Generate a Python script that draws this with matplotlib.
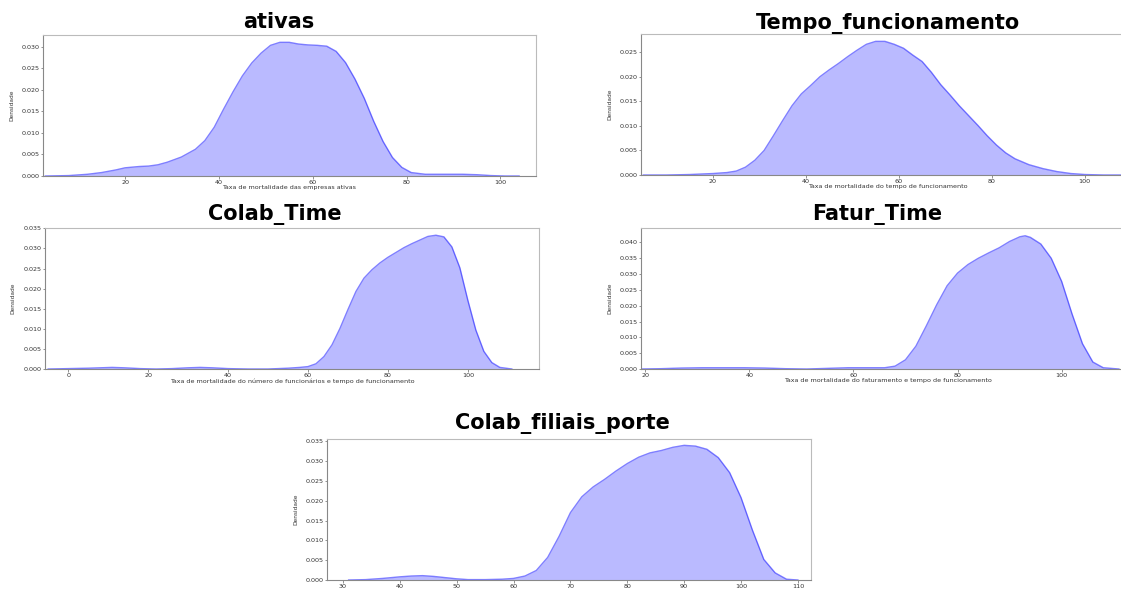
# KDE panels of mortality rates, redrawn from the density curves
import matplotlib.pyplot as plt

# ---- data (density curves) ----
titles = ["ativas", "Tempo_funcionamento", "Colab_Time", "Fatur_Time", "Colab_filiais_porte"]
xlabels = [
    "Taxa de mortalidade das empresas ativas",
    "Taxa de mortalidade do tempo de funcionamento",
    "Taxa de mortalidade do número de funcionários e tempo de funcionamento",
    "Taxa de mortalidade do faturamento e tempo de funcionamento",
    "Taxa de mortalidade do número de funcionários e filiais com porte da empresa",
]

ativas_x = [3, 8, 12, 15, 18, 20, 23, 25, 27, 29, 32, 35, 37, 39, 41, 43, 45, 47, 49, 51, 53,
            55, 57, 59, 61, 63, 65, 67, 69, 71, 73, 75, 77, 79, 81, 84, 88, 92, 95, 98, 101, 104]
ativas_d = [0.0000, 0.0001, 0.0004, 0.0008, 0.0014, 0.0019, 0.0022, 0.0023, 0.0026, 0.0032,
            0.0044, 0.0062, 0.0082, 0.0113, 0.0155, 0.0195, 0.0232, 0.0262, 0.0285, 0.0303,
            0.0310, 0.0310, 0.0306, 0.0304, 0.0303, 0.0301, 0.0289, 0.0263, 0.0225, 0.0180,
            0.0127, 0.0080, 0.0043, 0.0020, 0.0008, 0.0004, 0.0004, 0.0004, 0.0003, 0.0001,
            0.0000, 0.0000]

tempo_x = [5, 10, 15, 20, 23, 25, 27, 29, 31, 33, 35, 37, 39, 41, 43, 45, 47, 49, 51, 53, 55,
           57, 59, 61, 63, 65, 67, 69, 71, 73, 75, 77, 79, 81, 83, 85, 88, 91, 94, 97, 100, 104, 110]
tempo_d = [0.0000, 0.0000, 0.0001, 0.0003, 0.0005, 0.0008, 0.0016, 0.0030, 0.0050, 0.0080,
           0.0111, 0.0141, 0.0165, 0.0182, 0.0200, 0.0214, 0.0227, 0.0241, 0.0254, 0.0266,
           0.0272, 0.0272, 0.0266, 0.0258, 0.0244, 0.0231, 0.0209, 0.0184, 0.0163, 0.0141,
           0.0121, 0.0101, 0.0080, 0.0061, 0.0045, 0.0033, 0.0021, 0.0013, 0.0007, 0.0003,
           0.0001, 0.0000, 0.0000]

colab_x = [-5, 0, 5, 8, 11, 14, 18, 22, 26, 30, 33, 36, 40, 45, 50, 55, 58, 60, 62, 64, 66,
           68, 70, 72, 74, 76, 78, 80, 82, 84, 86, 88, 90, 92, 94, 96, 98, 100, 102, 104, 106, 108, 111]
colab_d = [0.0000, 0.0001, 0.0002, 0.0003, 0.0004, 0.0003, 0.0001, 0.0000, 0.0001, 0.0003,
           0.0004, 0.0003, 0.0001, 0.0000, 0.0000, 0.0002, 0.0004, 0.0006, 0.0013, 0.0031,
           0.0060, 0.0101, 0.0148, 0.0193, 0.0226, 0.0247, 0.0264, 0.0278, 0.0290, 0.0302,
           0.0312, 0.0321, 0.0330, 0.0333, 0.0329, 0.0304, 0.0252, 0.0171, 0.0097, 0.0044,
           0.0016, 0.0004, 0.0000]

fatur_x = [19, 23, 27, 31, 35, 39, 43, 47, 51, 55, 59, 63, 66, 68, 70, 72, 74, 76, 78, 80,
           82, 84, 86, 88, 90, 92, 93, 94, 96, 98, 100, 102, 104, 106, 108, 111]
fatur_d = [0.0000, 0.0001, 0.0003, 0.0004, 0.0004, 0.0004, 0.0003, 0.0001, 0.0000, 0.0002,
           0.0004, 0.0004, 0.0004, 0.0009, 0.0029, 0.0072, 0.0136, 0.0203, 0.0263, 0.0303,
           0.0330, 0.0350, 0.0367, 0.0383, 0.0403, 0.0418, 0.0421, 0.0416, 0.0395, 0.0350,
           0.0277, 0.0174, 0.0080, 0.0022, 0.0004, 0.0000]

porte_x = [31, 34, 37, 40, 42, 44, 46, 48, 50, 52, 55, 58, 60, 62, 64, 66, 68, 70, 72, 74, 76,
           78, 80, 82, 84, 86, 88, 90, 92, 94, 96, 98, 100, 102, 104, 106, 108, 110]
porte_d = [0.0000, 0.0001, 0.0004, 0.0008, 0.0010, 0.0011, 0.0009, 0.0006, 0.0003, 0.0001,
           0.0001, 0.0002, 0.0004, 0.0010, 0.0024, 0.0057, 0.0110, 0.0170, 0.0210, 0.0235,
           0.0254, 0.0275, 0.0294, 0.0310, 0.0321, 0.0327, 0.0335, 0.0340, 0.0338, 0.0330,
           0.0309, 0.0271, 0.0208, 0.0126, 0.0052, 0.0018, 0.0002, 0.0000]

xs = [ativas_x, tempo_x, colab_x, fatur_x, porte_x]
ds = [ativas_d, tempo_d, colab_d, fatur_d, porte_d]

# ---- layout ----
W, H = 1121, 589
# left, top, right, bottom in pixels
boxes = [(43, 35, 536, 176), (641, 34, 1134, 175), (45, 228, 539, 369),
         (641, 228, 1134, 369), (327, 439, 811, 580)]
xlims = [(2.5, 107.6), (4.5, 110.6), (-5.8, 117.8), (19.2, 113.9), (27.2, 112.3)]
ylims = [0.0327, 0.0287, 0.0351, 0.04456, 0.0356]
title_x = [0.478, 0.5, 0.466, 0.479, 0.486]
title_pad = [4.8, 2.4, 5.8, 5.8, 7.2]

fig = plt.figure(figsize=(W / 100, H / 100), dpi=100)

for i in range(5):
    l, t, r, b = boxes[i]
    ax = fig.add_axes([l / W, (H - b) / H, (r - l) / W, (b - t) / H])
    ax.fill_between(xs[i], ds[i], color="blue", alpha=0.27, lw=0)
    ax.plot(xs[i], ds[i], color="blue", alpha=0.5, lw=1)
    ax.set_xlim(*xlims[i])
    ax.set_ylim(0, ylims[i])
    ax.set_title(titles[i], fontsize=15, fontweight="bold", x=title_x[i], pad=title_pad[i])
    ax.set_xlabel(xlabels[i], fontsize=4.6, color="#333333", labelpad=0.5)
    ax.set_ylabel("Densidade", fontsize=4.2, color="#333333",
                  family=["Liberation Sans Narrow", "DejaVu Sans"])
    ax.yaxis.set_label_coords(-0.059, 0.5)
    ax.tick_params(labelsize=4.6, labelcolor="#333333", length=1.8, width=0.5,
                   pad=0.8, color="#666666")
    for side in ["top", "right"]:
        ax.spines[side].set_color("#bbbbbb")
    for side in ["left", "bottom"]:
        ax.spines[side].set_color("#888888")
    for sp in ax.spines.values():
        sp.set_linewidth(0.8)

fig.savefig("out.png", dpi=100)
